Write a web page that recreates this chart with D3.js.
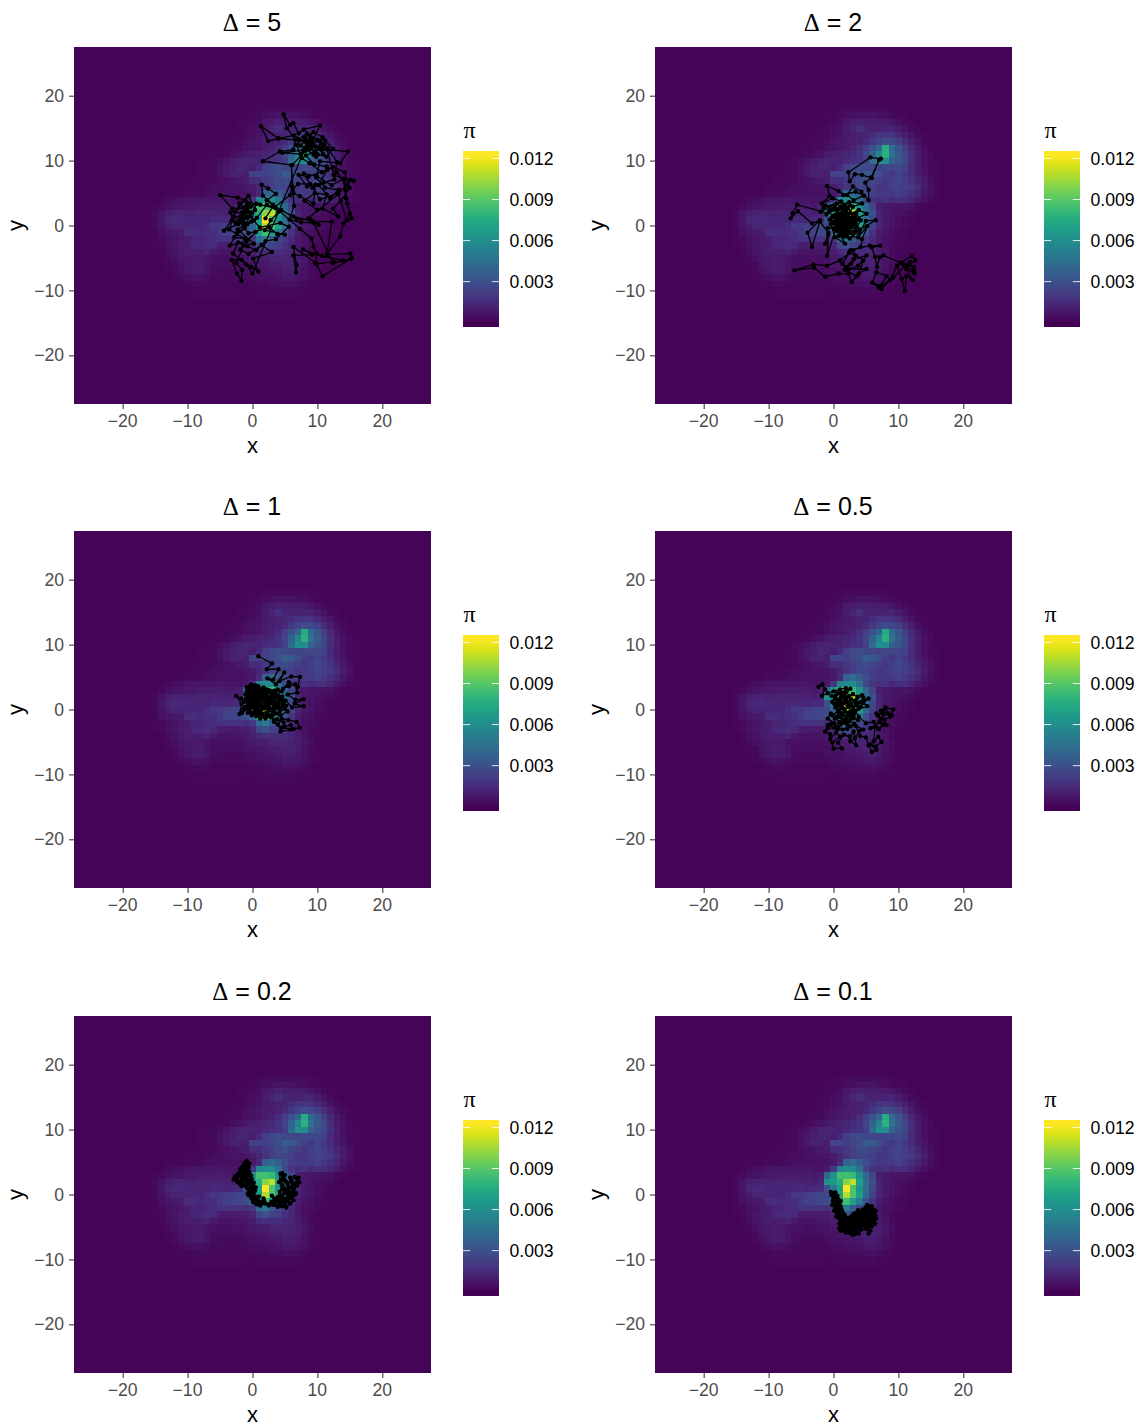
<!DOCTYPE html>
<html><head><meta charset="utf-8">
<script src="https://cdn.jsdelivr.net/npm/d3@7"></script>
<style>html,body{margin:0;padding:0;background:#fff}svg{display:block}
text{font-family:"Liberation Sans",Arial,sans-serif}</style></head>
<body><svg id="c" width="1144" height="1427"></svg>
<script>
const titles=["5","2","1","0.5","0.2","0.1"];
const axisTicks=[-20,-10,0,10,20];
const barTicks=[0.003,0.006,0.009,0.012];
const barLabels=["0.003","0.006","0.009","0.012"];
const densityUnit=1e-4, densityMax=0.0122, densityFloor=1;
const gridCols=d3.range(-17,20);
const gridRowsV=d3.range(18,-12,-1);
const density=[
[1,1,1,1,1,1,1,1,1,1,1,1,1,1,1,1,1,2,2,3,3,3,3,3,3,3,2,2,1,1,1,1,1,1,1,1,1],
[1,1,1,1,1,1,1,1,1,1,1,1,1,1,1,1,2,2,3,4,5,6,6,6,5,4,3,2,2,1,1,1,1,1,1,1,1],
[1,1,1,1,1,1,1,1,1,1,1,1,1,1,1,2,2,3,4,8,9,11,10,10,10,9,7,5,3,2,1,1,1,1,1,1,1],
[1,1,1,1,1,1,1,1,1,1,1,1,1,1,1,2,3,4,5,9,12,16,12,11,11,12,12,9,6,3,2,1,1,1,1,1,1],
[1,1,1,1,1,1,1,1,1,1,1,1,1,1,2,2,3,4,6,8,10,11,12,15,19,19,18,14,10,6,3,2,1,1,1,1,1],
[1,1,1,1,1,1,1,1,1,1,1,1,1,2,2,3,4,6,7,9,10,11,14,20,24,28,26,22,15,10,5,3,2,1,1,1,1],
[1,1,1,1,1,1,1,1,1,1,1,1,2,2,3,3,5,6,7,9,11,15,22,30,40,75,42,32,22,14,8,4,2,1,1,1,1],
[1,1,1,1,1,1,1,1,1,1,1,2,2,3,4,6,8,10,11,12,14,18,25,38,55,78,45,34,26,16,9,5,3,1,1,1,1],
[1,1,1,1,1,1,1,1,1,2,2,3,4,6,9,11,12,12,11,14,17,18,22,42,62,58,38,32,26,16,10,5,3,2,1,1,1],
[1,1,1,1,1,1,1,1,1,2,2,3,5,8,10,12,12,10,14,22,27,28,26,26,24,26,26,26,24,14,9,5,3,2,1,1,1],
[1,1,1,1,1,1,1,1,1,2,2,3,5,8,11,11,10,24,25,22,25,28,36,34,28,22,20,24,20,15,10,6,3,2,1,1,1],
[1,1,1,1,1,1,1,1,2,2,2,3,4,5,6,8,10,15,16,20,22,27,28,25,22,20,22,26,22,18,12,8,4,2,1,1,1],
[1,1,1,1,1,1,1,2,2,2,3,4,4,5,6,6,7,9,12,18,22,26,24,22,19,20,22,24,22,20,15,9,5,2,1,1,1],
[1,1,1,1,2,2,2,3,3,3,4,5,5,5,5,5,6,8,14,38,42,35,28,22,20,20,20,22,20,16,12,7,4,2,1,1,1],
[1,1,1,2,3,4,5,6,7,7,7,7,7,7,6,6,8,20,55,60,60,45,26,18,16,18,14,16,16,12,8,5,3,2,1,1,1],
[1,1,2,3,5,6,7,8,8,9,9,9,10,9,8,10,40,62,85,85,82,62,40,25,10,8,7,6,6,5,3,2,1,1,1,1,1],
[1,1,3,6,10,11,12,11,11,12,11,12,11,11,10,12,62,66,75,100,110,68,45,30,12,8,6,5,4,3,2,1,1,1,1,1,1],
[1,1,3,7,12,14,14,13,12,13,12,14,14,13,14,15,30,50,70,122,88,62,44,26,12,8,6,4,3,2,1,1,1,1,1,1,1],
[1,1,3,6,10,12,12,12,13,12,16,20,20,22,24,26,26,40,70,108,88,68,42,24,12,8,6,4,3,2,1,1,1,1,1,1,1],
[1,1,2,5,7,8,9,15,16,14,15,16,20,24,24,26,28,38,66,84,68,50,30,18,9,6,4,3,2,1,1,1,1,1,1,1,1],
[1,1,2,3,5,6,8,10,12,12,14,16,18,18,18,18,16,20,42,50,34,26,20,14,8,5,4,3,2,1,1,1,1,1,1,1,1],
[1,1,2,3,5,7,9,10,13,14,15,14,10,9,9,9,10,12,26,30,24,22,17,13,8,5,3,2,1,1,1,1,1,1,1,1,1],
[1,1,1,2,4,6,8,10,10,10,12,8,6,6,6,7,8,10,14,16,15,15,14,13,9,6,3,2,1,1,1,1,1,1,1,1,1],
[1,1,1,2,3,5,7,8,9,8,6,5,5,4,5,5,6,8,10,10,12,12,12,11,10,7,4,2,1,1,1,1,1,1,1,1,1],
[1,1,1,1,2,3,6,8,9,9,6,4,4,4,4,4,5,6,7,8,9,10,11,11,9,6,3,2,1,1,1,1,1,1,1,1,1],
[1,1,1,1,2,3,5,7,9,9,7,4,3,3,3,3,4,5,5,6,7,8,10,10,8,5,3,2,1,1,1,1,1,1,1,1,1],
[1,1,1,1,1,2,3,4,6,5,4,3,3,3,3,3,3,4,4,5,5,6,8,8,6,5,3,2,1,1,1,1,1,1,1,1,1],
[1,1,1,1,1,1,2,2,3,3,3,2,2,2,2,2,2,3,3,3,4,4,5,5,4,3,2,1,1,1,1,1,1,1,1,1,1],
[1,1,1,1,1,1,2,2,2,2,2,2,2,2,2,2,2,2,2,3,3,3,3,3,2,2,2,1,1,1,1,1,1,1,1,1,1],
[1,1,1,1,1,1,1,1,2,2,2,2,2,2,2,2,1,1,2,2,2,2,2,2,2,1,1,1,1,1,1,1,1,1,1,1,1]
];
const trailD5=[[2,1.1],[3.2,3],[2.2,3.9],[3.6,4.9],[2.4,5.7],[1.4,6.3],[1.6,4.6],[3.2,3.2],[4,2.1],[2.8,.8],[1.9,-.7],[5,-1.4],[3.8,-1.3],[2.6,-.3],[-.6,-1.2],[-2,.6],[-3.2,.8],[-4.4,-.8],[-2.2,.2],[-1.2,1.8],[-2.7,2.1],[-1.1,3.9],[-2.3,4.3],[-5,4.7],[-3.1,2.6],[-.8,2.8],[-1,1.2],[-3,1.4],[-1.4,.4],[-.7,2.2],[-.9,3.2],[-1.6,2],[-.4,1.4],[-1.8,.9],[-.3,2.9],[.6,3.4],[-.2,.6],[-2.4,-1.2],[-3.5,-3.1],[-.9,-2.4],[.5,-1],[-1.9,-3.7],[-.6,-4.4],[1.4,-3],[3,-4.1],[.1,-5.1],[.9,-7.1],[-.2,-6.4],[-1.7,-5.3],[-3.2,-5.3],[-2.4,-7.4],[-1.7,-8.5],[-1.6,-6.8],[-2.5,-5.8],[-1.4,-3.1],[.2,-2.8],[-2.3,-.6],[.7,1.2],[2.2,3.2],[3.4,2.8],[5.8,4.7],[6.1,6],[6,9.3],[6.3,5],[7.3,4.5],[9.4,3.4],[9.7,6.3],[8.4,6],[7.1,7.8],[8.6,7.5],[11.5,8.6],[10.2,6.2],[12,4.2],[13.3,5.5],[11.2,5.8],[9.8,7.4],[10.4,9.9],[13.5,9.6],[14.7,11.4],[11.5,11.7],[12.5,7.8],[14.2,7.1],[15.6,6.9],[15.1,7],[14.3,5.5],[14.6,3.4],[15.3,1.1],[14,.3],[13.5,-1.7],[11.5,-4.3],[12.2,.6],[9.4,.6],[6.3,1.4],[3.6,2.7],[7.3,-.5],[9.1,-2],[9.4,-3.3],[9.9,-4.3],[9.7,-5.8],[10.8,-7.8],[15.3,-5],[15.1,-4.3],[11.5,-4.5],[12.5,-5.6],[9.9,-5.9],[6.3,-3.3],[6.8,-6.1],[6.7,-7.2],[6.3,-4.6],[9.2,-4.5],[7.8,-3.7],[10.7,-4.7],[14,-5.4],[15.2,-5.1],[12.4,-5.8],[9.4,.4],[8.6,1.1],[13.2,4.8],[14.5,6.3],[13,8.2],[11.4,9.1],[9.5,9.4],[8.2,10.8],[9.6,11.4],[11.1,12.4],[10.4,13],[8.8,12.5],[9.8,10.6],[10.9,11],[9.3,12.7],[8.2,13.3],[7.4,12.3],[9,11.8],[10.6,12.6],[10,13.2],[8.1,12.9],[7,13.2],[8.4,14.2],[9.1,12.7],[10.4,15.4],[7.9,14.8],[7.1,14.2],[6.3,15.8],[5.8,15.5],[4.8,17.1],[5.3,15],[6.6,13.2],[6.3,11.7],[4.2,11.4],[1.6,9.9],[6.1,9.3],[8.2,11.5],[9.6,12.2],[7.8,11.6],[4.6,11.2],[7.4,11],[8.4,12.3],[10.8,11.7],[11.2,13.1],[9.2,13.5],[8,12],[9.4,10.9],[10.3,11.9],[8.7,13],[4,13.4],[2.4,13],[1.3,15.3],[4,13.4],[6.4,13.9],[8.9,12.4],[11.6,11.9],[13,9.8],[12.6,7.1],[11,6.6],[9.2,5.8],[7.9,8],[9.9,7.6],[12.2,6.2],[14,7.2],[14.4,4.2],[15,1.8],[14.5,.8],[13.2,5],[10.4,4],[8.9,6.4],[7,6.4],[6.2,5.6],[6.4,3],[5.7,.9],[7.5,.5],[9.5,.4],[10.2,.1],[9,.9],[6.8,1],[4.4,2.4],[1.2,3.2],[-.6,3.4],[-1.6,1.1],[-.8,.2],[-2.6,.4],[-3.4,2],[-1.4,2.8],[-.2,2],[-1.2,-.4],[-2.8,-1.8],[-1.2,-2],[-3.6,-.6],[-2,3.4],[-.6,4.6],[.4,2.4],[-1.9,1.4],[-1,2.4],[.2,.8],[1.1,-.3],[4.3,.4],[5.6,-.2],[3.6,-2.1],[2,-2.4],[.6,-3.8],[-.8,-3.2],[-2.2,-2.6],[-3,-4.3],[-1,-6],[0,-7.4],[8.9,13.8],[10,11],[11.4,10.6],[12.4,11.8],[10.8,13.6],[9.4,14.4],[8,13.6],[6.8,12.4],[7.6,10.4],[8.8,9.6],[10.7,8.2],[12.4,9],[14.2,8.2],[15,5.8],[13.6,3.8],[12.4,2.6],[13.2,1.4],[10.8,2.6],[11.4,4.8],[9.6,5],[8,3.8],[10,2.4]];
const trailD2=[[7.3,10.3],[5.7,10.5],[2.3,8.2],[2.5,6.8],[3.3,7.9],[4.4,7.8],[5.9,7.3],[7,10.1],[5.8,7.4],[4.9,6.6],[5.4,5.5],[5.4,3.9],[4.3,5.2],[3,6],[2.1,4.7],[3.1,3.9],[4.7,4.6],[3.4,5.2],[1.5,4.7],[.8,5.3],[-1,6.1],[-.6,4.6],[-1.8,3.4],[-.1,4.2],[1.2,3.7],[-1.5,2.8],[-2,2.1],[.5,3.4],[2.6,3.1],[.7,2.5],[-1.2,3.1],[-.3,2.4],[1.8,2.4],[.2,1.6],[-5.6,3.2],[-6.3,1.9],[-6.6,1.1],[-5.5,2.2],[-3.3,.3],[-2.1,.8],[-4,-1.1],[-3.3,-3.3],[-2.1,.6],[-.8,-1.1],[-1.3,-2.8],[-.8,-1.4],[-1,-4.7],[.4,-.4],[1.8,-2.8],[.2,-1.8],[-.4,.2],[1.2,1.9],[2.8,1.1],[1.6,.4],[.4,1.2],[2,2.1],[3.1,.2],[1.2,-.6],[-.1,.6],[1.5,1.4],[2.4,.3],[.9,.8],[2,-.5],[3,1.5],[1.4,2.6],[.3,.2],[1.9,1.1],[2.5,-.9],[.6,-.9],[1.1,.2],[2.2,.8],[.8,1.6],[-.2,1.3],[1.8,-.1],[2.9,.6],[1.3,.9],[.5,-.3],[2.1,1.7],[3.5,1.9],[4.2,.8],[3.6,-.2],[1.7,.5],[.9,-.2],[2.6,1.9],[1.2,1.2],[3.9,2.4],[5.1,1.8],[3.2,.9],[1.5,-.9],[3,-1.4],[4.1,-.6],[6.5,.8],[5,.7],[4,-1.2],[2.1,-1.4],[1.1,-1.3],[3.4,-.7],[1.6,1.8],[-.6,.9],[.7,.4],[2.3,1.3],[1.3,-.2],[3,2.9],[4.4,3.4],[2.4,3.6],[1,2.9],[2.2,2.7],[3.3,1.4],[1.9,.1],[.8,-1.6],[2.5,-2],[.1,.4],[.9,1.3],[1.6,.9],[2.6,.6],[1.4,.1],[.5,.8],[1.9,1.5],[.2,-.6],[2.8,-.3],[1.1,-1],[2,.4],[.6,1.9],[1.2,.5],[2.4,1.1],[3.4,.4],[-.9,-.4],[.8,-.4],[1.7,-.5],[2.2,-.2],[1.5,1.1],[.7,1.1],[1.1,1.7],[1.8,.6],[.4,2.4],[-.7,2.2],[.2,2.9],[-1.1,1.7],[1.7,3.2],[3.7,.9],[3.2,-1],[1.6,-1.7],[3.8,-1.8],[5.2,-.1],[4.4,-2.1],[4.2,-3.3],[3,-3.8],[1,-5.4],[-1,-6.2],[-3.1,-6],[-6,-6.9],[-3,-6.5],[-1.3,-7.9],[.8,-7.4],[2.3,-7.4],[1.4,-5.9],[2.4,-4.2],[3.4,-4.6],[2.7,-5.9],[1.7,-6.8],[3.6,-7.8],[2.8,-8.7],[1.9,-6.4],[3.1,-5.2],[5.1,-4.6],[3.8,-6.2],[2.4,-6.7],[5.1,-6.7],[3.9,-7.4],[4.6,-5.4],[2.6,-3.8],[5.6,-3.1],[7.2,-3.1],[5.9,-3.4],[6.4,-4.8],[6.7,-6.4],[7.1,-4.9],[7.7,-4.6],[10.3,-5.7],[12.1,-4.7],[12.6,-5.4],[11.5,-6.1],[12.4,-6.4],[12.5,-7.4],[11.2,-6.7],[10.7,-5.9],[12.2,-8.4],[11.2,-7.8],[11,-10.1],[10.5,-8.2],[9.8,-6.2],[8.7,-8.4],[7.4,-9.8],[6,-8.8],[7.2,-9.3],[8.2,-7.8],[6.6,-7.2],[6,-8.8],[7,-9.6],[9.2,-8],[11,-6.2],[12.4,-7],[11.8,-5.6]];
const trailD1=[[.9,8.2],[3,7.1],[2.2,6.2],[4,6.2],[3.2,4.6],[2.3,4.8],[3.6,3.9],[4.9,5.7],[4.2,4.4],[6,5.1],[7.3,5],[7,3.5],[5.6,4.2],[4.7,3.2],[5.6,3.6],[6.6,3.9],[6.9,2.6],[5.4,2.3],[6.6,1.5],[7.9,1.6],[6.5,.9],[7.9,.5],[6.1,.3],[5.1,1.4],[4.2,.2],[3.4,1.8],[4.5,2.8],[2.9,2.6],[1.8,3],[.6,3.3],[-.4,3.6],[.2,2.2],[-.9,2.7],[-.2,3.9],[-.7,1.2],[.5,1.7],[1.6,2.2],[2.9,.9],[1.4,.6],[-.1,.8],[1.2,-.2],[2.6,.2],[3.7,-.6],[1.8,1.4],[.4,.2],[-.6,1.9],[-1.3,1.2],[-1.7,1.7],[-2.5,2.1],[-1.7,.9],[-2,-.7],[-1.2,.4],[-1.6,-.5],[-.6,.2],[-.1,-.9],[.9,-.2],[1.2,-1.4],[2.2,-.6],[3.3,.5],[.8,2.7],[-.6,3],[.9,3.6],[2.2,2],[3.8,1.1],[2.1,.8],[.2,1.3],[-.9,.4],[.6,-1],[2,-1.4],[3.2,-.4],[4.7,.7],[3.4,2.9],[1.7,3.4],[.3,3],[1.1,1.1],[2.4,1.4],[1,-.7],[-.3,2.7],[1.5,2.8],[3,1.5],[4.4,1.7],[5.2,.6],[3.7,.3],[2.6,2.9],[4.6,2],[5.4,-.3],[4.3,-.9],[.2,.8],[-.8,2.2],[-.2,3.2],[.4,2.7],[.9,2.2],[.1,1.8],[-.4,.5],[.7,.3],[1.9,.2],[.5,.8],[-.2,2.3],[-1,1.7],[-.4,-.3],[.3,-.5],[2.4,.7],[3.4,1.1],[4.1,1.3],[3.2,.1],[4.8,1.2],[4,1.9],[3.6,2.3],[2.2,3.1],[1.2,2.5],[.5,3.7],[-.9,3.4],[-.1,2.9],[.7,1.2],[1.5,1.5],[2.7,1.2],[4.9,.1],[4.2,-.3],[3.1,-.9],[2.4,-1],[1.6,-.9],[.4,-.3],[-.7,.9],[-1.4,.1],[4.8,-2],[3.8,-1.5],[2.8,-1.2],[3.9,-2.3],[4.5,-1.4],[5.5,-1.6],[6.8,-1.9],[7.3,-2.8],[5.8,-3.1],[4.3,-3.4],[4.9,-2.6],[5.9,-2.4],[6.3,-3],[4.4,-2.8],[3.3,-1.9],[2.4,.1],[1.3,1.8],[.1,.4],[-.7,-.5],[.5,2.4],[-.2,1.7],[1.9,.3],[3.1,2.1],[.7,.7],[2.3,2.6],[4,.7],[1.5,-.6],[-1.1,2.3],[.3,3.7],[1.3,3.1],[2.7,1.8],[3.9,3.1],[1.1,2],[-.4,1.3],[.9,1.4]];
const trailD05=[[-2.3,3.5],[-1.7,3.9],[-1.3,3.1],[-1.8,2.1],[-.9,2.5],[0,2.8],[1,3.1],[1.9,3.3],[1.2,2],[.4,1.6],[-.3,2.1],[.9,.9],[2,1.7],[3,2.4],[3.7,1.9],[2.7,.9],[1.4,1],[.3,.3],[1.6,.1],[3,.4],[4,1.1],[5.4,1.7],[4.6,1],[5.2,.5],[3.9,.1],[2.6,-.3],[1.2,-.6],[2.2,-1],[3.8,-1.6],[2.8,-1.4],[1.5,-1.6],[.6,-1.2],[2,2.7],[.6,2.5],[3.4,1.4],[4.4,2.2],[2.4,2.1],[1,1.4],[2.2,.4],[1.7,-.3],[2.9,-.7],[.2,-1.4],[.8,-.6],[1.4,.3],[.6,.6],[-.2,1.2],[.3,2.1],[1.5,2.6],[2.7,1.6],[3.6,.6],[4.6,1.8],[4.2,.4],[3.4,-.2],[2.2,-.5],[1.2,.5],[.1,.9],[2.4,1.2],[3.2,-.6],[1.1,-1.2],[-.4,-.6],[-.9,-1.4],[.1,-2.1],[1.2,-2.2],[2.4,-1.8],[3.2,-2.2],[2.1,-3],[.6,-3.1],[-.9,-2.4],[-.4,-2.2],[.8,-2.6],[1.8,-2],[2.6,-2.6],[1.4,-3.1],[.1,-2.8],[-.9,-2.9],[-1.3,-3.4],[-.5,-3.8],[-.5,-4.5],[.4,-3.6],[1,-4.2],[-.2,-5.1],[0,-6],[1.3,-6],[.7,-5.1],[1.6,-3.9],[2.5,-4.2],[3.1,-3.4],[3.5,-5.5],[2.6,-4.9],[3.3,-4.4],[4,-3.3],[4.6,-3.1],[3.4,-2.5],[4.1,-4.1],[5,-4.3],[5.4,-5.5],[5.9,-6.5],[6.6,-6.2],[5.7,-5.4],[6.5,-5.7],[7.4,-5],[6.9,-4.2],[6.2,-4.9],[6.4,-2.7],[5.7,-2.9],[7.1,-1.9],[8.2,-2.4],[7.4,-1.4],[6.6,-.6],[7.7,-.7],[8,.3],[9.2,0],[8.7,-1.1],[7.9,-1.6],[7.3,-.2],[8.4,-.6],[9,-.9],[7.9,.1],[6.8,-.9],[7.6,-2.4],[7,-3],[6.2,-1.9],[5,-2.1],[3.9,-1.1],[3.3,-.2],[2.3,.7],[1.1,2.6],[2.6,3.2],[.2,.9],[1.9,-1.5],[3.4,.9],[2.1,-2.3],[.9,-1.9],[-.2,-.9],[.7,-.2],[1.9,1.2],[3.1,-1.1]];
const trailD02=[[-.9,5.2],[-1.3,4.5],[-.6,4.2],[-1.4,3.7],[-.5,3.5],[-1.2,3.2],[-.2,2.9],[-1,2.6],[-1.8,2.9],[-2.4,2.4],[-2.2,3.2],[-1.6,2.2],[-2,1.7],[-1.1,2.1],[-.4,2.3],[.2,1.8],[-.6,1.6],[-1.3,1.4],[-.9,1.1],[-.2,1.1],[.5,1.1],[-.4,.5],[.3,.4],[-.1,.1],[.4,-.3],[-.2,-.5],[.3,-.9],[.1,-1.2],[.9,-1],[1.5,-1.2],[1.2,-1.7],[2,-1.4],[2.5,-1.7],[2.9,-1.1],[3.4,-1.5],[3,-.2],[3.5,-.6],[3.9,-.4],[4.2,.4],[4.5,1.4],[4.1,1.9],[4.3,3.2],[4.7,2.6],[5,3],[4.6,3.3],[5,2.2],[5.4,1.6],[5.9,2],[6.5,2.7],[7.1,2.6],[6.9,2.3],[7.2,1.9],[6.6,1.7],[6.2,.5],[6.7,.2],[6.5,-.1],[6,-.5],[6.3,-.9],[5.8,-1.4],[5.2,-2],[4.5,-1.8],[3.9,-1.9],[3.2,-1.6],[4.1,-1.6],[4.8,-1],[5.5,-1.1],[6,-.1],[5.2,.4],[5.6,1.1],[5.2,1.9],[4.4,2.2],[5.1,.9],[4.7,.8],[5.6,-.2],[4.9,.2],[4.6,-.4],[4.2,-1.2],[5,-1.5],[5.4,-.6],[5.5,.5],[6,1.1],[6.2,1.5],[5.8,2.6],[6.9,1.4],[6.4,.9],[5.7,.2],[4.9,-.7],[4.4,-.2],[4.3,-.7],[3.6,-1],[3.8,-1],[2.7,-1.5],[1.8,-1],[1.7,-.6],[.8,-1.5],[.6,-1.5],[.6,-.7],[1,-.3],[0,-.8],[-.6,-.1],[-.7,.2],[.4,.7],[-.2,.7],[-.7,.9],[.1,1.3],[-.1,2.4],[-.3,1.8],[-1,1.6],[-1.7,1.3],[-1.7,1.8],[-.8,2],[-1.5,2.6],[-2.3,1.9],[-2.9,2.3],[-2.7,2.8],[-2.4,2.9],[-1.3,2.9],[-1.4,2.3],[-.7,3],[-.4,3.1],[-.9,3.4],[-.9,3.9],[-1.7,3.5],[-1.9,3.9],[-1,4.2],[-1.6,4.2],[-.8,4.5],[-1.2,4.9],[-.5,4.8]];
const trailD01=[[0,.2],[-.3,-.1],[.2,-.5],[.6,-.2],[.4,-.8],[-.1,-1],[.5,-1.3],[.1,-1.7],[.7,-1.6],[.3,-2.1],[.8,-2.2],[.4,-2.6],[1,-2.7],[.6,-3],[1.1,-3.2],[.7,-3.5],[1.3,-3.5],[1,-3.9],[1.6,-3.8],[1.2,-4.2],[1.8,-4.1],[1.4,-4.5],[2,-4.4],[1.6,-4.9],[1.2,-5],[1.9,-5.2],[2.3,-4.8],[2.1,-5.5],[1.6,-5.4],[2.5,-5.3],[2.8,-4.7],[2.6,-5.7],[3.1,-5.4],[3.3,-6.1],[3.6,-5.7],[3.2,-5],[3.6,-5],[3.1,-4.4],[2.6,-4.2],[3,-3.8],[3.5,-4.2],[3.9,-4.5],[3.4,-3.4],[3.9,-3.6],[4.2,-4],[3.8,-3],[4.3,-3.2],[4.1,-2.7],[4.6,-2.9],[4.5,-2.3],[5,-2.6],[5,-2],[5.5,-2.4],[5.4,-1.9],[6,-2.3],[6.1,-2.8],[5.7,-3],[6.4,-3.2],[6,-3.6],[6.6,-3.7],[6.2,-4.1],[5.7,-3.8],[5.2,-3.2],[4.8,-3.5],[5.3,-3.9],[5.6,-4.5],[5.2,-4.4],[4.7,-4.2],[4.9,-4.8],[4.4,-4.8],[4.5,-3.8],[5.4,-5.1],[5.4,-6],[5.7,-5.6],[5,-5.3],[4.3,-5.4],[6.2,-2.5],[5,-3],[4.1,-3.4],[3.7,-3.9],[3,-4.9],[2.2,-3.9],[1.7,-3.2],[1.3,-2.4],[.9,-1.2],[1.1,-1.8],[0,-.6],[.3,.3],[-.4,.4],[.7,-.7],[1.1,-1],[-.2,-1.6],[1.1,-2.2],[.1,-2.5],[1.5,-2.9],[.4,-3.4],[1.8,-3.4],[.9,-4.5],[2.3,-3.6],[.9,-5.2],[1.9,-5.9],[1.1,-5.6],[2.6,-6],[3,-6.2],[3.9,-6],[4,-5.2],[3.7,-4.7],[4.4,-4.3],[2.7,-3.4],[3.1,-3],[3.5,-2.8],[3.8,-2.4],[4.4,-2.6],[5.2,-1.6],[5.9,-1.8],[6.5,-2.5],[6.4,-4.5],[5.9,-4.9],[5.1,-4.9],[5.9,-4.2],[5.2,-3.6],[4.6,-3.4],[5.6,-2.8],[6.3,-3.7],[4,-3],[3.3,-4],[2.4,-5],[2.2,-4.4]];
const trails=[trailD5,trailD2,trailD1,trailD05,trailD02,trailD01];

const svg=d3.select("#c");
const panelW=357,cols=[74,655],rows=[47,531,1016];
const color=d3.scaleSequential(d3.interpolateViridis).domain([0,densityMax]);
const defs=svg.append("defs");
const grad=defs.append("linearGradient").attr("id","vir").attr("x1",0).attr("x2",0).attr("y1",1).attr("y2",0);
d3.range(0,20).forEach(i=>grad.append("stop").attr("offset",(i+.5)/20).attr("stop-color",color(i/19*densityMax)));

const cells=[];
d3.range(-27,28).forEach(v=>d3.range(-27,28).forEach(u=>{
  const ri=gridRowsV.indexOf(v),ci=gridCols.indexOf(u);
  const val=(ri>=0&&ci>=0)?density[ri][ci]:densityFloor;
  cells.push({u,v,val:val*densityUnit});
}));
const grayT="#4D4D4D",tickC="#333333";

titles.forEach((t,i)=>{
  const px=cols[i%2],py=rows[Math.floor(i/2)];
  const g=svg.append("g").attr("transform",`translate(${px},${py})`);
  const x=d3.scaleLinear([-27.5,27.5],[0,panelW]);
  const y=d3.scaleLinear([-27.5,27.5],[panelW,0]);
  g.append("g").attr("shape-rendering","crispEdges").selectAll("rect").data(cells).join("rect")
    .attr("x",d=>x(d.u-.5)).attr("y",d=>y(d.v+.5))
    .attr("width",d=>x(d.u+.5)-x(d.u-.5)+.3).attr("height",d=>y(d.v-.5)-y(d.v+.5)+.3)
    .attr("fill",d=>color(d.val));
  const line=d3.line().x(d=>x(d[0])).y(d=>y(d[1]));
  g.append("path").attr("d",line(trails[i])).attr("fill","none").attr("stroke","#000").attr("stroke-width",1.3);
  g.append("g").selectAll("circle").data(trails[i]).join("circle")
    .attr("cx",d=>x(d[0])).attr("cy",d=>y(d[1])).attr("r",2.2).attr("fill","#000");
  const fmt=d=>d<0?"\u2212"+Math.abs(d):String(d);
  const ax=g.append("g").attr("transform",`translate(0,${panelW})`)
    .call(d3.axisBottom(x).tickValues(axisTicks).tickFormat(fmt).tickSize(5).tickPadding(5.5));
  const ay=g.append("g").call(d3.axisLeft(y).tickValues(axisTicks).tickFormat(fmt).tickSize(5).tickPadding(5));
  [ax,ay].forEach(a=>{a.select(".domain").remove();
    a.selectAll(".tick line").attr("stroke",tickC).attr("stroke-width",1.05);
    a.selectAll(".tick text").attr("fill",grayT).style("font-size","17.6px").style("font-family",'"Liberation Sans"');});
  ax.selectAll(".tick text").attr("dx","-0.6");
  g.append("text").attr("x",panelW/2-.5).attr("y",-16).attr("text-anchor","middle").attr("fill","#000").style("font-size","25px")
    .html(`<tspan style="font-family:'Liberation Serif'">\u0394</tspan> = ${t}`);
  g.append("text").attr("x",panelW/2).attr("y",panelW+49).attr("text-anchor","middle").attr("fill","#000").style("font-size","22px").text("x");
  g.append("text").attr("transform",`translate(-51,${panelW/2}) rotate(-90)`).attr("text-anchor","middle").attr("fill","#000").style("font-size","22px").text("y");
  // legend
  const bx=panelW+32,by=104,bw=36,bh=176;
  g.append("text").attr("x",bx+.5).attr("y",by-13).style("font-family","'Liberation Serif'").style("font-size","24px").attr("fill","#000").text("\u03C0");
  g.append("rect").attr("x",bx).attr("y",by).attr("width",bw).attr("height",bh).attr("fill","url(#vir)");
  const barY=d3.scaleLinear([0,densityMax],[by+bh-4.3,by+4.7]);
  barTicks.forEach((b,j)=>{
    [[bx,bx+7.2],[bx+bw-7.2,bx+bw]].forEach(s=>g.append("line").attr("x1",s[0]).attr("x2",s[1]).attr("y1",barY(b)).attr("y2",barY(b)).attr("stroke","#fff").attr("stroke-width",1).attr("stroke-opacity",.85));
    g.append("text").attr("x",bx+bw+10.5).attr("y",barY(b)).attr("dy","0.36em").attr("fill","#000").style("font-size","17.6px").text(barLabels[j]);
  });
});
</script></body></html>
